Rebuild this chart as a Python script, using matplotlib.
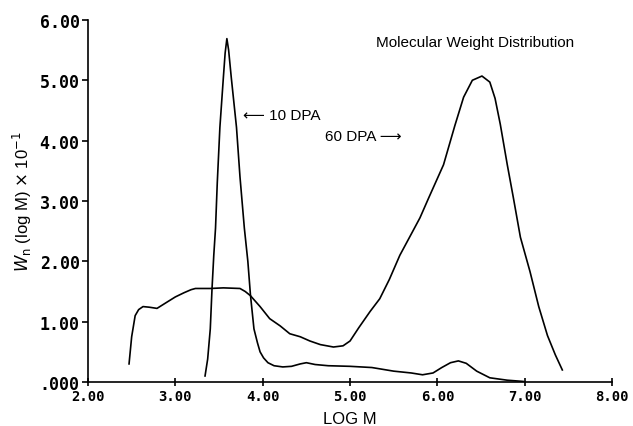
import matplotlib.pyplot as plt

# 10 DPA sample: narrow peak
logm_10 = [3.34, 3.37, 3.40, 3.42, 3.44, 3.46, 3.48, 3.51, 3.55, 3.57, 3.59, 3.61, 3.64,
           3.70, 3.74, 3.79, 3.83, 3.86, 3.90, 3.94, 3.97, 4.01, 4.06, 4.13, 4.23, 4.33,
           4.43, 4.50, 4.60, 4.75, 5.00, 5.25, 5.50, 5.70, 5.83, 5.95, 6.05, 6.15, 6.24,
           6.33, 6.45, 6.60, 6.80, 6.98]
w_10 = [0.10, 0.38, 0.88, 1.55, 2.10, 2.55, 3.30, 4.22, 5.05, 5.45, 5.69, 5.50, 5.05,
        4.22, 3.40, 2.55, 2.00, 1.44, 0.88, 0.65, 0.50, 0.40, 0.32, 0.27, 0.25, 0.26,
        0.30, 0.32, 0.29, 0.27, 0.26, 0.24, 0.18, 0.15, 0.12, 0.15, 0.24, 0.32, 0.35,
        0.31, 0.18, 0.07, 0.03, 0.01]

# 60 DPA sample: broad distribution
logm_60 = [2.47, 2.50, 2.54, 2.58, 2.63, 2.70, 2.79, 2.90, 3.00, 3.10, 3.18, 3.23, 3.40,
           3.55, 3.74, 3.80, 3.86, 3.97, 4.08, 4.20, 4.31, 4.43, 4.54, 4.66, 4.81, 4.92,
           5.00, 5.10, 5.23, 5.34, 5.45, 5.57, 5.70, 5.80, 5.90, 6.07, 6.20, 6.30, 6.40,
           6.51, 6.60, 6.66, 6.72, 6.80, 6.87, 6.95, 7.06, 7.16, 7.26, 7.35, 7.43]
w_60 = [0.30, 0.75, 1.10, 1.20, 1.25, 1.24, 1.22, 1.32, 1.41, 1.48, 1.53, 1.55, 1.55,
        1.56, 1.55, 1.50, 1.43, 1.25, 1.05, 0.93, 0.80, 0.75, 0.68, 0.62, 0.58, 0.60,
        0.68, 0.90, 1.17, 1.38, 1.70, 2.10, 2.45, 2.72, 3.05, 3.60, 4.25, 4.72, 5.00,
        5.07, 4.97, 4.70, 4.27, 3.60, 3.05, 2.40, 1.83, 1.25, 0.77, 0.45, 0.20]

x_ticks = [2, 3, 4, 5, 6, 7, 8]
x_labels = ["2.00", "3.00", "4.00", "5.00", "6.00", "7.00", "8.00"]
y_ticks = [0, 1, 2, 3, 4, 5, 6]
y_labels = [".000", "1.00", "2.00", "3.00", "4.00", "5.00", "6.00"]

fig = plt.figure(figsize=(6.33, 4.27), dpi=100)
ax = fig.add_axes([0.139, 0.103, 0.828, 0.848])

ax.plot(logm_10, w_10, color="black", lw=1.2)
ax.plot(logm_60, w_60, color="black", lw=1.2)

ax.set_xlim(2, 8)
ax.set_ylim(0, 6)
ax.spines["top"].set_visible(False)
ax.spines["right"].set_visible(False)
ax.spines["left"].set_linewidth(1.2)
ax.spines["bottom"].set_linewidth(1.2)

ax.set_xticks(x_ticks)
ax.set_xticklabels(x_labels, family="DejaVu Sans Mono", weight="bold", size=10)
ax.set_yticks(y_ticks)
ax.set_yticklabels(y_labels, family="DejaVu Sans Mono", weight="bold", size=12)
ax.tick_params(axis="x", direction="inout", length=6, width=1.2, pad=2)
ax.tick_params(axis="y", direction="out", length=4, width=1.2, pad=2)

ax.set_xlabel("LOG M", family="Liberation Sans", fontsize=12, labelpad=6)
ax.set_ylabel(r"$W_\mathrm{n}$ (log M) $\times$ 10$^{-1}$", family="Liberation Sans",
              fontsize=12, labelpad=4)

lab_font = ["Liberation Sans", "DejaVu Sans"]
ax.text(6.43, 5.63, "Molecular Weight Distribution", family=lab_font,
        fontsize=11, ha="center", va="center")
ax.text(3.78, 4.43, "\u27f5 10 DPA", family=lab_font, fontsize=11,
        ha="left", va="center")
ax.text(4.71, 4.07, "60 DPA \u27f6", family=lab_font, fontsize=11,
        ha="left", va="center")

fig.savefig("out.png", dpi=100)
